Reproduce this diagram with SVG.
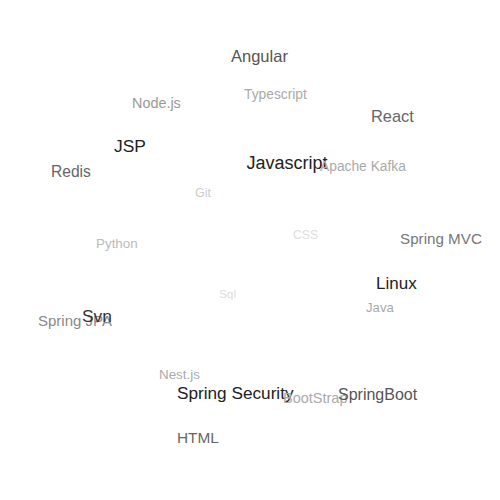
<svg xmlns="http://www.w3.org/2000/svg" width="500" height="500" viewBox="0 0 500 500">
<style>
text{font-family:"Liberation Sans",Arial,sans-serif}
</style>
<rect width="500" height="500" fill="#ffffff"/>
<g id="words">
<g id="w-angular"><text x="231" y="62" font-size="16.5" fill="#555">Angular</text></g>
<g id="w-typescript"><text x="244" y="99" font-size="13.8" fill="#aaa">Typescript</text></g>
<g id="w-nodejs"><text x="132" y="108" font-size="14.4" fill="#999">Node.js</text></g>
<g id="w-react"><text x="371" y="122" font-size="16.4" fill="#666">React</text></g>
<g id="w-jsp"><text x="114" y="152" font-size="17.4" fill="#222">JSP</text></g>
<g id="w-javascript"><text x="246.5" y="168.5" font-size="18" fill="#222">Javascript</text></g>
<g id="w-kafka"><text x="320" y="171" font-size="13.8" fill="#aaa">Apache Kafka</text></g>
<g id="w-redis"><text x="51" y="177" font-size="15.6" fill="#666">Redis</text></g>
<g id="w-git"><text x="195" y="197" font-size="12.5" fill="#ccc">Git</text></g>
<g id="w-python"><text x="96" y="248" font-size="13.4" fill="#bbb">Python</text></g>
<g id="w-css"><text x="293" y="239" font-size="12.2" fill="#ddd">CSS</text></g>
<g id="w-springmvc"><text x="400" y="244" font-size="15.2" fill="#777">Spring MVC</text></g>
<g id="w-linux"><text x="376" y="289" font-size="17" fill="#222">Linux</text></g>
<g id="w-sql"><text x="219" y="298" font-size="11.8" fill="#ddd">Sql</text></g>
<g id="w-java"><text x="366" y="312" font-size="13.2" fill="#aaa">Java</text></g>
<g id="w-springjpa"><text x="38" y="326" font-size="15" fill="#888">Spring JPA</text></g>
<g id="w-svn"><text x="82" y="322" font-size="17.4" fill="#333">Svn</text></g>
<g id="w-nestjs"><text x="159" y="379" font-size="13.4" fill="#aaa">Nest.js</text></g>
<g id="w-springsecurity"><text x="177" y="399" font-size="17.2" fill="#222">Spring Security</text></g>
<g id="w-bootstrap"><text x="283" y="403" font-size="14.5" fill="#aaa">BootStrap</text></g>
<g id="w-springboot"><text x="338" y="400" font-size="16" fill="#555">SpringBoot</text></g>
<g id="w-html"><text x="177" y="443" font-size="15.4" fill="#666">HTML</text></g>
</g>
<g id="connectors"/>
</svg>
